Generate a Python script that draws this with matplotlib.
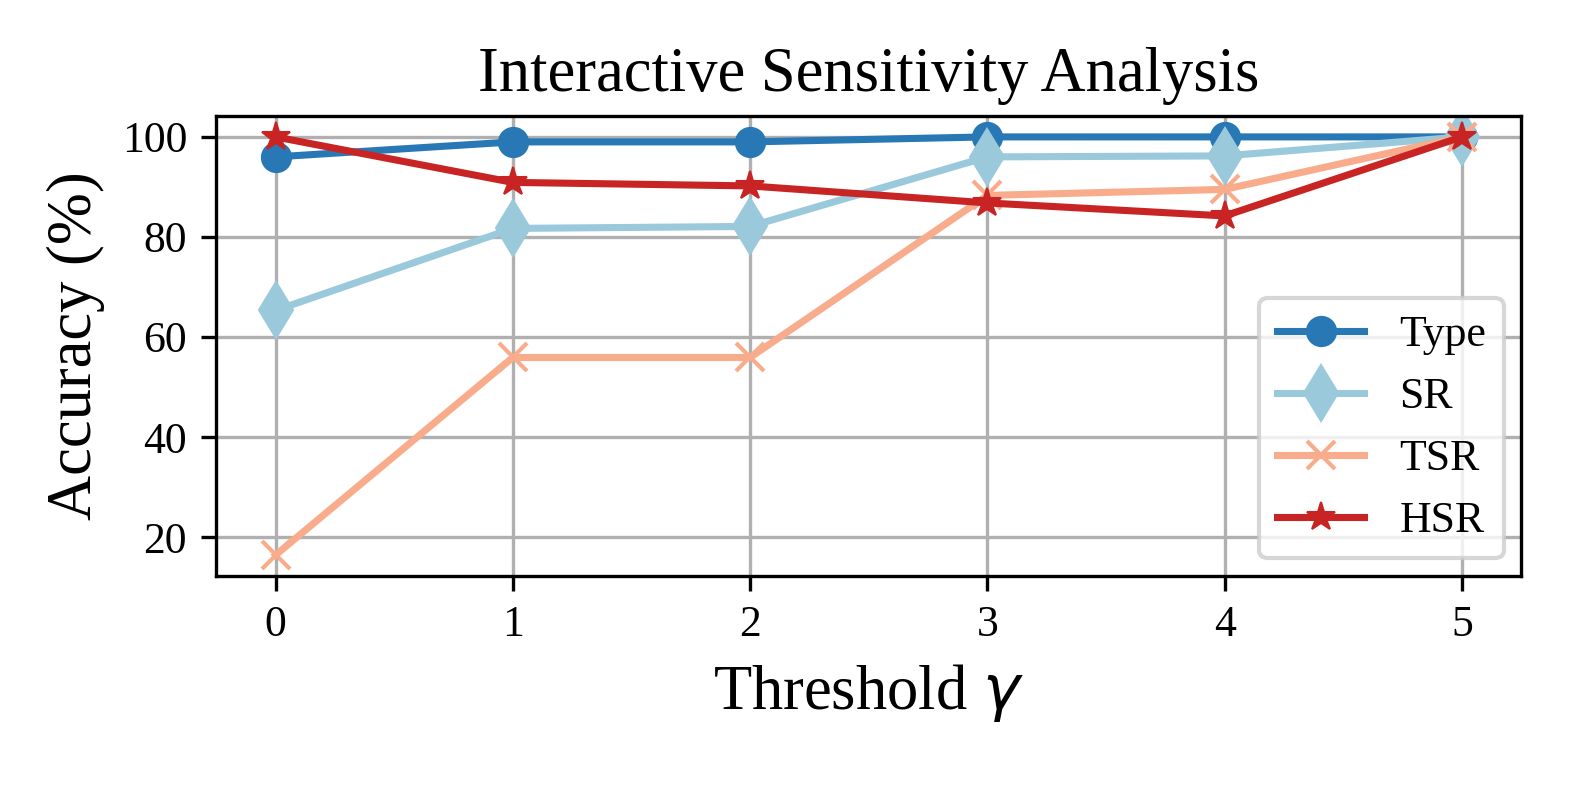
import matplotlib
matplotlib.use("Agg")
import matplotlib.pyplot as plt

plt.rcParams["font.family"] = "serif"
plt.rcParams["font.serif"] = ["Liberation Serif", "DejaVu Serif"]
plt.rcParams["mathtext.fontset"] = "dejavusans"

thresholds = [0, 1, 2, 3, 4, 5]
type_acc = [96.0, 99.0, 99.0, 100.0, 100.0, 100.0]
sr_acc = [65.3, 81.7, 82.1, 96.0, 96.2, 100.0]
tsr_acc = [16.4, 55.9, 55.9, 88.3, 89.5, 100.0]
hsr_acc = [100.0, 90.9, 90.2, 86.8, 84.2, 100.0]

# name, values, marker, colour, marker size
series = [
    ("Type", type_acc, "o", "#2878b5", 7.0),
    ("SR", sr_acc, "d", "#9ac9db", 9.5),
    ("TSR", tsr_acc, "x", "#f8ac8c", 6.5),
    ("HSR", hsr_acc, "*", "#c82423", 7.0),
]

fig = plt.figure(figsize=(5.26, 2.63), dpi=300)
ax = fig.add_axes([0.137, 0.270, 0.827, 0.583])

for name, vals, marker, color, ms in series:
    ax.plot(thresholds, vals, marker=marker, color=color, label=name,
            linewidth=1.7, markersize=ms,
            markeredgewidth=1.0 if marker == "x" else 0.5)

ax.set_title("Interactive Sensitivity Analysis", fontsize=15)
ax.set_xlabel(r"Threshold $\gamma$", fontsize=15)
ax.set_ylabel("Accuracy (%)", fontsize=15)
ax.tick_params(labelsize=10.5)
ax.set_yticks([20, 40, 60, 80, 100])
ax.grid(True)
ax.legend(loc="lower right", fontsize=10.5, borderaxespad=0.4)

fig.savefig("out.png", dpi=300)
